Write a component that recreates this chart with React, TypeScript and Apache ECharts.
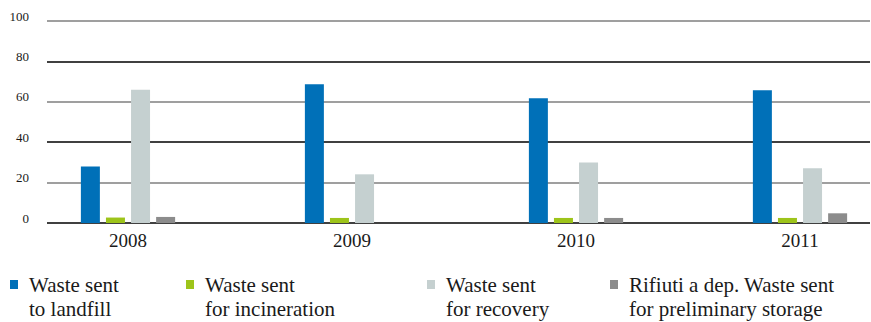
import React, { useEffect, useRef } from 'react';
import * as echarts from 'echarts';

const years = ['2008', '2009', '2010', '2011'];
const seriesNames = [
  'Waste sent\nto landfill',
  'Waste sent\nfor incineration',
  'Waste sent\nfor recovery',
  'Rifiuti a dep. Waste sent\nfor preliminary storage',
];
const landfill = [28, 68.7, 61.7, 65.7];
const incineration = [2.7, 2.5, 2.5, 2.5];
const recovery = [66, 24.1, 30, 27.1];
const storage = [3, 0, 2.5, 4.8];
const colors = ['#0070B8', '#9DC41A', '#C5D0D0', '#8C8C8C'];
const legendLefts = [10, 186, 427, 610];

const FONT = 'Liberation Serif';

export default function App() {
  const ref = useRef<HTMLDivElement>(null);
  useEffect(() => {
    if (!ref.current) return;
    document.body.style.margin = '0';
    const chart = echarts.init(ref.current, undefined, { renderer: 'svg' });
    const values = [landfill, incineration, recovery, storage];
    chart.setOption({
      animation: false,
      backgroundColor: '#ffffff',
      textStyle: { fontFamily: FONT },
      grid: [
        { left: 47, right: 42, top: 21, bottom: 99 },
        { left: 16, right: 0, top: 21, bottom: 99 },
      ],
      xAxis: [
        { gridIndex: 0, type: 'value', show: false, min: 0, max: 1 },
        {
          gridIndex: 1,
          type: 'category',
          data: years,
          axisLine: { show: false },
          axisTick: { show: false },
          axisLabel: { fontFamily: FONT, fontSize: 19, color: '#1a1a1a', margin: 8 },
        },
      ],
      yAxis: [
        {
          gridIndex: 0,
          type: 'value',
          min: 0,
          max: 100,
          interval: 20,
          axisLine: { show: false },
          axisTick: { show: false },
          axisLabel: {
            fontFamily: FONT,
            fontSize: 13,
            color: '#1a1a1a',
            margin: 18,
            verticalAlign: 'bottom',
            lineHeight: 10,
          },
          splitLine: { lineStyle: { color: ['#000000', '#7f7f7f'], width: 1.6 } },
        },
        { gridIndex: 1, type: 'value', min: 0, max: 100, show: false },
      ],
      legend: seriesNames.map((name, i) => ({
        left: legendLefts[i],
        top: 273,
        padding: 0,
        data: [name],
        icon: 'path://M0,0H8V9H0Z M0,34',
        itemWidth: 8,
        itemHeight: 34,
        selectedMode: false,
        textStyle: {
          fontFamily: FONT,
          fontSize: 21,
          color: '#1a1a1a',
          lineHeight: 24,
          padding: [0, 0, 0, 6],
        },
      })),
      series: seriesNames.map((name, i) => ({
        name,
        type: 'bar',
        xAxisIndex: 1,
        yAxisIndex: 1,
        data: values[i],
        barWidth: 19,
        barGap: '32%',
        itemStyle: { color: colors[i] },
      })),
    });
    return () => chart.dispose();
  }, []);
  return (
    <div style={{ width: 871, height: 322, overflow: 'hidden' }}>
      <div ref={ref} style={{ width: 912, height: 322 }} />
    </div>
  );
}
